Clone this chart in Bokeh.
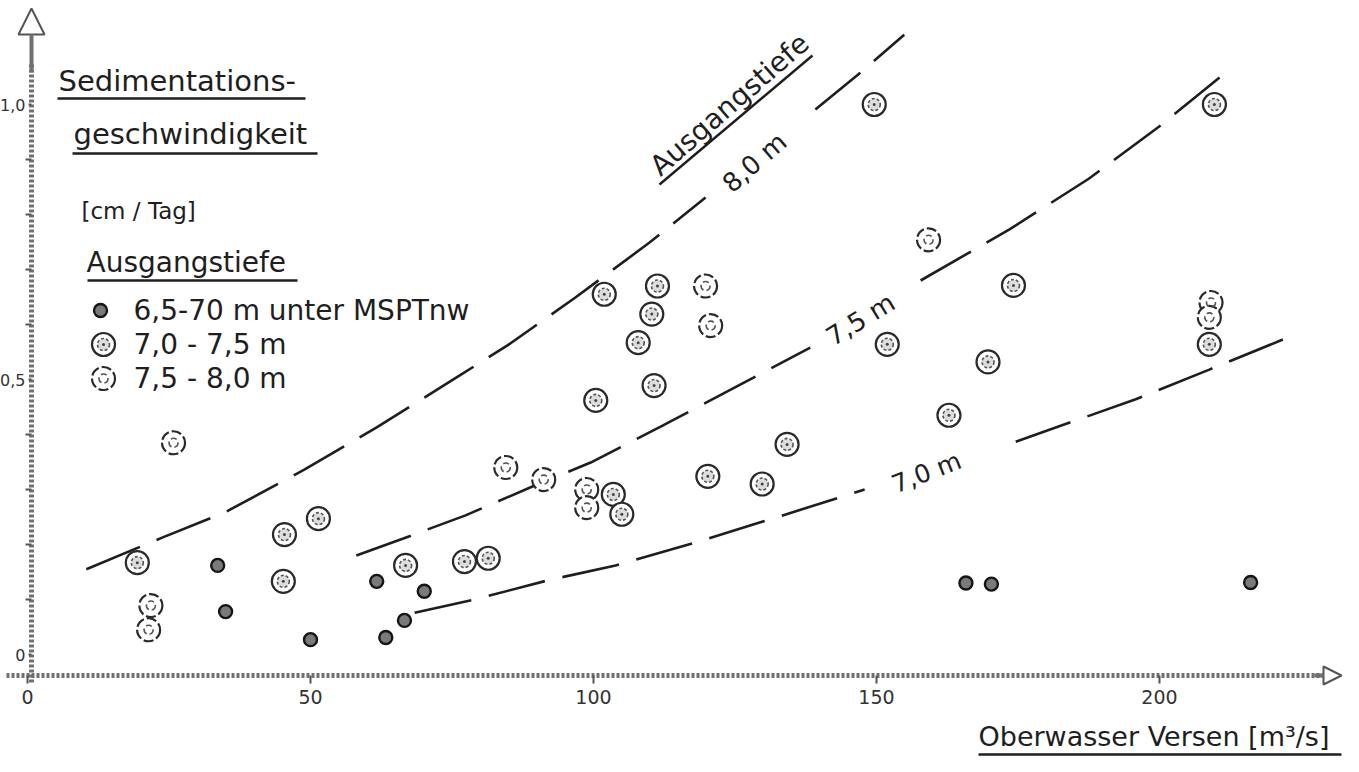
from bokeh.plotting import figure
from bokeh.models import Range1d, FixedTicker, Label, Arrow, NormalHead
from bokeh.embed import file_html
from bokeh.resources import INLINE

# ---------------- data ----------------
# 6,5 - 7,0 m  (small dark dots)
a_x = [33.6, 35.0, 50.0, 61.7, 70.1, 66.6, 63.3, 165.8, 170.3, 216.1]
a_y = [0.162, 0.078, 0.027, 0.133, 0.115, 0.062, 0.031, 0.130, 0.128, 0.131]
# 7,0 - 7,5 m  (double rings)
b_x = [19.4, 45.4, 51.4, 45.2, 66.8, 77.2, 81.4, 103.5, 105.0, 100.4, 101.9, 111.3,
       110.3, 107.9, 110.7, 120.2, 129.8, 134.2, 151.9, 162.8, 169.7, 174.2, 209.7,
       208.8, 149.6]
b_y = [0.167, 0.218, 0.247, 0.133, 0.162, 0.169, 0.175, 0.291, 0.255, 0.462, 0.655, 0.670,
       0.619, 0.567, 0.489, 0.324, 0.310, 0.382, 0.564, 0.435, 0.532, 0.671, 1.000,
       0.564, 1.000]
# 7,5 - 8,0 m  (open rings)
c_x = [25.8, 21.8, 21.4, 84.5, 91.2, 98.8, 98.8, 119.8, 120.7, 159.2, 209.1, 208.8]
c_y = [0.385, 0.089, 0.045, 0.340, 0.318, 0.300, 0.267, 0.670, 0.598, 0.754, 0.640, 0.613]

# isolines of "Ausgangstiefe" (two pieces each, broken for the label)
l80_x1 = [10.4, 23.9, 34.8, 48.9, 61.7, 76.3, 84.8, 96.8, 109.9, 119.8]
l80_y1 = [0.155, 0.213, 0.258, 0.336, 0.413, 0.507, 0.562, 0.649, 0.749, 0.831]
l80_x2 = [139.2, 146.6, 154.9]
l80_y2 = [0.991, 1.053, 1.127]

l75_x1 = [58.1, 66.4, 77.4, 88.9, 99.5, 112.2, 126.0, 138.3]
l75_y1 = [0.180, 0.211, 0.253, 0.304, 0.349, 0.416, 0.491, 0.558]
l75_x2 = [157.8, 173.5, 187.5, 200.2, 212.4]
l75_y2 = [0.680, 0.773, 0.865, 0.962, 1.064]

l70_x1 = [68.4, 79.0, 92.0, 103.9, 117.5, 132.2, 147.9]
l70_y1 = [0.076, 0.100, 0.135, 0.162, 0.202, 0.249, 0.300]
l70_x2 = [174.6, 195.8, 208.8, 222.6]
l70_y2 = [0.387, 0.464, 0.518, 0.576]

x_ticks = [0, 50, 100, 150, 200]
y_ticks = [0, 0.5, 1.0]
y_tick_labels = {0: "0", 0.5: "0,5", 1: "1,0"}
y_minor = [0.1, 0.2, 0.3, 0.4, 0.6, 0.7, 0.8, 0.9]

legend_labels = ["6,5-70 m unter MSPTnw", "7,0 - 7,5 m", "7,5 - 8,0 m"]

# ---------------- layout helpers ----------------
W, H = 1343, 756
def rx(px):  # reference pixel -> data x
    return (px - 35) / 5.66
def ry(py):  # reference pixel -> data y
    return (662 - py) / 550

FONT = "DejaVu Sans"
INK = "#1e1e1e"

p = figure(width=W, height=H, output_backend="svg", toolbar_location=None,
           x_range=Range1d(rx(8), rx(8 + W)), y_range=Range1d(ry(8 + H), ry(8)),
           min_border=0)
p.grid.visible = False
p.outline_line_color = None
p.background_fill_color = "white"
p.border_fill_color = "white"

# axes crossing inside the frame
YAX = rx(39)
p.xaxis.fixed_location = ry(683)
p.yaxis.fixed_location = YAX
for ax in (p.xaxis[0], p.yaxis[0]):
    ax.axis_line_color = "#707070"
    ax.axis_line_width = 5
    ax.axis_line_dash = "3 2"
    ax.major_label_text_font = FONT
    ax.major_label_text_color = "#333333"
    ax.major_tick_line_color = "#555555"
    ax.major_tick_line_width = 2
    ax.major_tick_in = 0
    ax.minor_tick_line_color = "#555555"
    ax.minor_tick_line_width = 2
    ax.minor_tick_in = 0

p.xaxis.ticker = FixedTicker(ticks=x_ticks, minor_ticks=[])
p.xaxis.bounds = (rx(14), rx(1335))
p.xaxis.major_tick_out = 8
p.xaxis.major_label_standoff = 6
p.xaxis.major_label_text_font_size = "19px"

p.yaxis.ticker = FixedTicker(ticks=y_ticks, minor_ticks=y_minor)
p.yaxis.major_label_overrides = y_tick_labels
p.yaxis.bounds = (ry(690), ry(70))
p.yaxis.major_tick_out = 3
p.yaxis.minor_tick_out = 6
p.yaxis.major_label_standoff = 0
p.yaxis.major_label_text_font_size = "16px"

# arrow heads on the axes
p.add_layout(Arrow(x_start=YAX, y_start=ry(80), x_end=YAX, y_end=ry(16),
                   line_color="#707070", line_width=4,
                   end=NormalHead(size=26, fill_color="white", line_color="#555555", line_width=2)))
p.add_layout(Arrow(x_start=rx(1322), y_start=ry(683), x_end=rx(1349), y_end=ry(683),
                   line_color="#707070", line_width=4,
                   end=NormalHead(size=18, fill_color="white", line_color="#555555", line_width=2)))

# isolines
DASH = "58 18"
for xs, ys in [(l80_x1, l80_y1), (l80_x2, l80_y2), (l75_x1, l75_y1), (l75_x2, l75_y2),
               (l70_x1, l70_y1), (l70_x2, l70_y2)]:
    p.line(xs, ys, line_color=INK, line_width=2.6, line_dash=DASH)

# markers
def draw_a(xs, ys):
    p.scatter(xs, ys, marker="circle", size=13, fill_color="#7a7a7a",
              line_color="#151515", line_width=2.4)
def draw_b(xs, ys):
    p.scatter(xs, ys, marker="circle", size=23, fill_color="white",
              line_color="#2a2a2a", line_width=2.2)
    p.scatter(xs, ys, marker="circle", size=12, fill_color="#dddddd",
              line_color="#555555", line_width=1.6, line_dash="3 2")
    p.scatter(xs, ys, marker="circle", size=3, fill_color="#444444", line_color=None)
def draw_c(xs, ys):
    p.scatter(xs, ys, marker="circle", size=23, fill_color="white",
              line_color="#2a2a2a", line_width=2.2, line_dash="10 3")
    p.scatter(xs, ys, marker="circle", size=9, fill_color=None,
              line_color="#555555", line_width=1.6, line_dash="6 3")

draw_a(a_x, a_y)
draw_b(b_x, b_y)
draw_c(c_x, c_y)

# legend markers
draw_a([rx(108)], [ry(318)])
draw_b([rx(111)], [ry(352)])
draw_c([rx(111)], [ry(386)])

def lab(txt, px, py, size, angle=0, align="left", color=INK):
    p.add_layout(Label(x=rx(px), y=ry(py), text=txt, text_font=FONT,
                       text_font_size=f"{size}px", angle=angle, angle_units="deg",
                       text_align=align, text_baseline="middle", text_color=color))

def uline(px0, py0, px1, py1, w=2.4):
    p.segment(x0=[rx(px0)], y0=[ry(py0)], x1=[rx(px1)], y1=[ry(py1)],
              line_color=INK, line_width=w)

# y title block
lab("Sedimentations-", 66, 88, 29)
uline(65, 106, 313, 106)
lab("geschwindigkeit", 81, 141, 29)
uline(80, 161, 325, 161)
lab("[cm / Tag]", 89, 218, 23)
lab("Ausgangstiefe", 94, 270, 28)
uline(95, 288, 305, 288)
for txt, py in zip(legend_labels, [318, 352, 386]):
    lab(txt, 141, py, 28)

# rotated labels
lab("Ausgangstiefe", 737, 112, 28, angle=41, align="center")
uline(667, 192, 820, 63)
lab("8,0 m", 762, 170, 26, angle=41, align="center")
lab("7,5 m", 868, 327, 26, angle=31.5, align="center")
lab("7,0 m", 934, 480, 25, angle=21.5, align="center")

# x title
lab("Oberwasser Versen [m³/s]", 986, 744, 27)
uline(986, 762, 1349, 762)

open("out.html", "w").write(file_html(p, INLINE))
